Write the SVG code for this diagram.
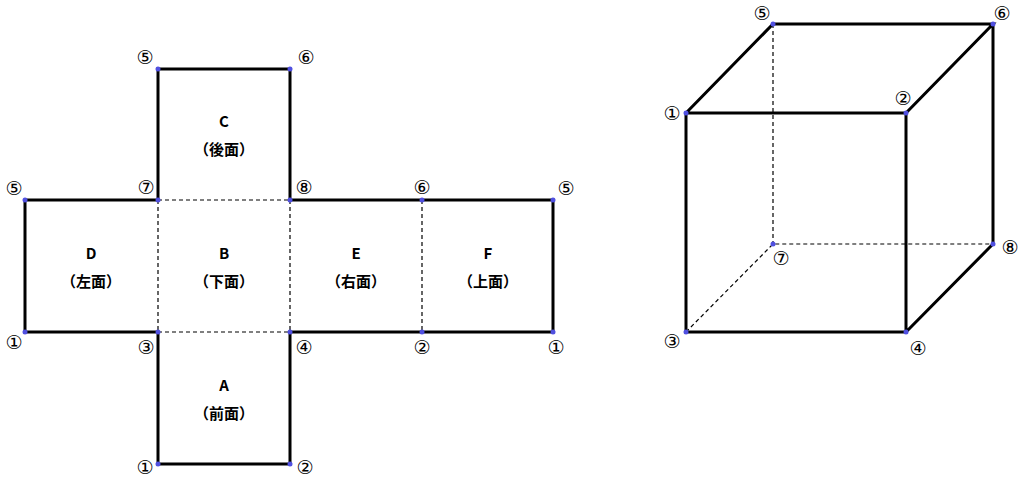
<svg xmlns="http://www.w3.org/2000/svg" width="1024" height="489" viewBox="0 0 1024 489">
<style>
.s{stroke:#000;stroke-width:3;fill:none;stroke-linecap:round}
.d{stroke:#000;stroke-width:1.2;fill:none;stroke-dasharray:4,3}
.p{fill:#5050e0}
.n{font-family:"DejaVu Sans","Noto Sans CJK JP",sans-serif;font-size:19px;text-anchor:middle;fill:#000}
.l{font-family:"Noto Sans CJK JP","Liberation Sans",sans-serif;font-size:15px;font-weight:bold;text-anchor:middle;fill:#000}
</style>
<rect width="1024" height="489" fill="#fff"/>
<g id="connectors">
<path class="s" d="M158,200V69H290V200M25,200H158M25,200V332H158M290,200H553V332H290M158,332V464H290V332"/>
<path class="d" d="M158,200H290M158,332H290M158,200V332M290,200V332M422,200V332"/>
<path class="s" d="M686,113H906V332H686Z M686,113L773,24H993L906,113 M993,24V244L906,332"/>
<path class="d" d="M686,332L773,244H993M773,24V244"/>
</g>
<g id="points" class="p">
<circle cx="158" cy="69" r="2.5"/><circle cx="290" cy="69" r="2.5"/>
<circle cx="25" cy="200" r="2.5"/><circle cx="158" cy="200" r="2.5"/><circle cx="290" cy="200" r="2.5"/><circle cx="422" cy="200" r="2.5"/><circle cx="553" cy="200" r="2.5"/>
<circle cx="25" cy="332" r="2.5"/><circle cx="158" cy="332" r="2.5"/><circle cx="290" cy="332" r="2.5"/><circle cx="422" cy="332" r="2.5"/><circle cx="553" cy="332" r="2.5"/>
<circle cx="158" cy="464" r="2.5"/><circle cx="290" cy="464" r="2.5"/>
<circle cx="686" cy="113" r="2.5"/><circle cx="906" cy="113" r="2.5"/><circle cx="906" cy="332" r="2.5"/><circle cx="686" cy="332" r="2.5"/>
<circle cx="773" cy="24" r="2.5"/><circle cx="993" cy="24" r="2.5"/><circle cx="993" cy="244" r="2.5"/><circle cx="773" cy="244" r="2.5"/>
</g>
<g id="numbers" class="n">
<text x="145" y="64">⑤</text><text x="306" y="64">⑥</text>
<text x="14" y="195">⑤</text><text x="146" y="194">⑦</text><text x="304" y="194">⑧</text><text x="422" y="194">⑥</text><text x="566" y="195">⑤</text>
<text x="14" y="349">①</text><text x="146" y="354">③</text><text x="304" y="354">④</text><text x="422" y="354">②</text><text x="556" y="354">①</text>
<text x="145" y="474">①</text><text x="305" y="474">②</text>
<text x="672" y="120">①</text><text x="903" y="105">②</text><text x="762" y="20">⑤</text><text x="1002" y="20">⑥</text>
<text x="672" y="348">③</text><text x="918" y="355">④</text><text x="1010" y="254">⑧</text><text x="781" y="265">⑦</text>
</g>
<g id="C" class="l"><text x="224" y="127">C</text><text x="224" y="155">（後面）</text></g>
<g id="D" class="l"><text x="91" y="259">D</text><text x="91" y="287">（左面）</text></g>
<g id="B" class="l"><text x="224" y="259">B</text><text x="224" y="287">（下面）</text></g>
<g id="E" class="l"><text x="356" y="259">E</text><text x="356" y="287">（右面）</text></g>
<g id="F" class="l"><text x="488" y="259">F</text><text x="488" y="287">（上面）</text></g>
<g id="A" class="l"><text x="224" y="391">A</text><text x="224" y="419">（前面）</text></g>
</svg>
